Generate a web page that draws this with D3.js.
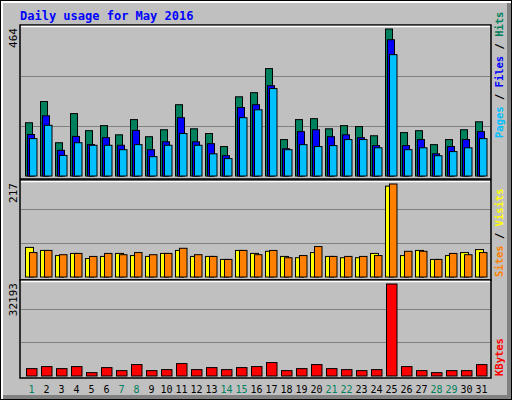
<!DOCTYPE html>
<html>
<head>
<meta charset="utf-8">
<script src="https://cdn.jsdelivr.net/npm/d3@7"></script>
<style>
  body { margin: 0; background: #fff; }
  text { font-family: "DejaVu Sans Mono", monospace; }
</style>
</head>
<body>
<svg id="chart" width="512" height="400"></svg>
<script>
"use strict";

// daily values
var days = d3.range(1, 32);
var weekends = [1, 7, 8, 14, 15, 21, 22, 28, 29];
var hits = [168, 235, 105, 197, 143, 159, 130, 178, 124, 146, 225, 149, 134, 93, 250, 263, 339, 115, 178, 181, 149, 159, 156, 127, 464, 137, 143, 99, 115, 146, 171];
var files = [131, 190, 81, 125, 99, 121, 97, 144, 83, 108, 184, 108, 102, 64, 216, 225, 285, 86, 140, 146, 124, 130, 121, 96, 430, 96, 115, 70, 93, 115, 140];
var pages = [118, 160, 65, 105, 97, 97, 83, 99, 61, 97, 134, 97, 70, 55, 184, 209, 276, 83, 99, 93, 96, 115, 115, 89, 383, 83, 89, 64, 77, 89, 118];
var visits = [69, 62, 50, 55, 43, 48, 55, 50, 48, 55, 62, 48, 48, 41, 62, 55, 60, 48, 45, 57, 48, 45, 45, 55, 212, 50, 62, 41, 50, 57, 64];
var sites = [57, 62, 52, 55, 48, 55, 52, 57, 52, 55, 67, 52, 48, 41, 62, 52, 62, 45, 50, 71, 48, 48, 48, 50, 217, 60, 60, 41, 55, 52, 57];
var kbytes = [2585, 3290, 2585, 3290, 1175, 2938, 1880, 3995, 1880, 2233, 4348, 2233, 2938, 2233, 2938, 3290, 4700, 1880, 2585, 3995, 2585, 2233, 1880, 2233, 32193, 3290, 1880, 1175, 1880, 1880, 3995];
var maxLabels = ["464", "217", "32193"];

var svg = d3.select("#chart");
var gray = "#c0c0c0";

// frame
svg.append("rect").attr("x", 0).attr("y", 0).attr("width", 512).attr("height", 400).attr("fill", "#000");
svg.append("rect").attr("x", 1).attr("y", 1).attr("width", 510).attr("height", 398).attr("fill", "#fff");
svg.append("rect").attr("x", 3).attr("y", 3).attr("width", 508).attr("height", 396).attr("fill", "#808080");
svg.append("rect").attr("x", 3).attr("y", 3).attr("width", 504).attr("height", 392).attr("fill", gray);

svg.append("text").attr("x", 20).attr("y", 20)
  .attr("fill", "#0000ff").attr("font-size", 12).attr("font-weight", "bold")
  .text("Daily usage for May 2016");

var x = d3.scaleBand().domain(days).range([25, 490]).paddingInner(0);

// panels: top, bottom, baseline, top of max bar
var panels = [
  { y0: 25, y1: 179, base: 176, top: 29 },
  { y0: 180, y1: 280, base: 277, top: 184 },
  { y0: 280, y1: 378, base: 376, top: 284 }
];

panels.forEach(function (p, i) {
  svg.append("rect").attr("x", 20).attr("y", p.y0).attr("width", 471).attr("height", p.y1 - p.y0)
    .attr("fill", gray).attr("stroke", "#000").attr("stroke-width", 1.5);
  svg.append("line").attr("x1", 21).attr("x2", 490).attr("y1", p.y0 + 1.5).attr("y2", p.y0 + 1.5)
    .attr("stroke", "#fff").attr("stroke-width", 1.5);
  var h = p.base - p.top;
  [1 / 3, 2 / 3].forEach(function (f) {
    var yy = Math.round(p.base - h * f * (i === 0 ? 1.02 : 1.1)) + 0.5;
    svg.append("line").attr("x1", 21).attr("x2", 490).attr("y1", yy).attr("y2", yy)
      .attr("stroke", "#808080").attr("stroke-width", 1);
  });
  svg.append("text").attr("transform", "translate(17," + (p.y0 + 3) + ") rotate(-90)")
    .attr("text-anchor", "end").attr("font-size", 11).attr("fill", "#000")
    .text(maxLabels[i]);
});

function drawSeries(values, max, panel, offset, width, color) {
  var y = d3.scaleLinear().domain([0, max]).range([panel.base, panel.top]);
  svg.append("g").selectAll("rect").data(values).enter().append("rect")
    .attr("x", function (d, i) { return x(days[i]) + offset; })
    .attr("width", width)
    .attr("y", function (d) { return y(d); })
    .attr("height", function (d) { return panel.base - y(d); })
    .attr("fill", color).attr("stroke", "#000").attr("stroke-width", 1);
}

drawSeries(hits, 464, panels[0], 0.5, 7, "#00805c");
drawSeries(files, 464, panels[0], 2.5, 7, "#0000ff");
drawSeries(pages, 464, panels[0], 4.5, 7.5, "#00c0ff");
drawSeries(visits, 217, panels[1], 0.5, 8, "#ffff00");
drawSeries(sites, 217, panels[1], 4.5, 7.5, "#ff8000");
drawSeries(kbytes, 32193, panels[2], 1.5, 10.5, "#ff0000");

// day labels
svg.append("g").selectAll("text").data(days).enter().append("text")
  .attr("x", function (d) { return x(d) + 6.5; })
  .attr("y", 393).attr("text-anchor", "middle").attr("font-size", 10)
  .attr("font-family", "DejaVu Sans, sans-serif")
  .attr("fill", function (d) { return weekends.indexOf(d) >= 0 ? "#00805c" : "#000"; })
  .text(function (d) { return d; });

// right side legends
function legend(parts, yEnd) {
  var t = svg.append("text").attr("transform", "translate(503," + yEnd + ") rotate(-90)")
    .attr("font-size", 10.5).attr("font-weight", "bold");
  parts.forEach(function (p) {
    t.append("tspan").attr("fill", p[1]).text(p[0]);
  });
}
legend([["Pages", "#00c0ff"], [" / ", "#000"], ["Files", "#0000ff"], [" / ", "#000"], ["Hits", "#00805c"]], 138);
legend([["Sites", "#ff8000"], [" / ", "#000"], ["Visits", "#ffff00"]], 277);
legend([["KBytes", "#ff0000"]], 376);
</script>
</body>
</html>
